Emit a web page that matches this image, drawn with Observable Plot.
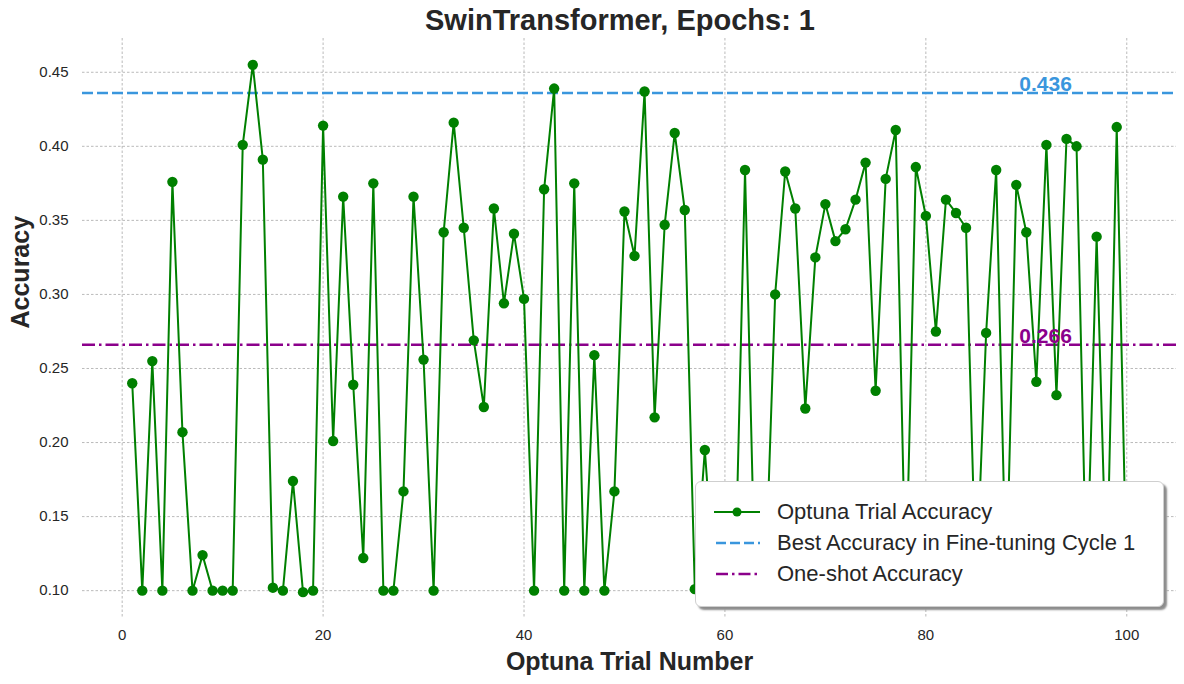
<!DOCTYPE html>
<html>
<head>
<meta charset="utf-8">
<script src="https://cdn.jsdelivr.net/npm/d3@7"></script>
<script src="https://cdn.jsdelivr.net/npm/@observablehq/plot@0.6"></script>
<style>
  body { margin: 0; background: #fff; font-family: "Liberation Sans", Arial, sans-serif; }
  #wrap { position: relative; width: 1184px; height: 684px; overflow: hidden; }
  #title { position: absolute; left: 60px; width: 1120px; top: 3px; text-align: center;
           font-size: 29px; font-weight: bold; color: #262626; line-height: 34px; }
  #chart { position: absolute; left: 0; top: 38px; }
  #legend { position: absolute; left: 695px; top: 481px; width: 469px; height: 126px;
            background: #fff; border: 1px solid #cfcfcf; border-radius: 6px;
            box-shadow: 3px 3px 2px #8c8c8c; box-sizing: border-box; }
  #legend .row { position: absolute; left: 18px; height: 30px; display: flex; align-items: center; }
  #legend .row span { font-size: 22px; color: #262626; margin-left: 17px; }
</style>
</head>
<body>
<div id="wrap">
  <div id="title">SwinTransformer, Epochs: 1</div>
  <div id="chart"></div>
  <div id="legend"></div>
</div>
<script>
// Optuna trial accuracies, trials 1..100
const accuracy = [
  0.240, 0.100, 0.255, 0.100, 0.376, 0.207, 0.100, 0.124, 0.100, 0.100,
  0.100, 0.401, 0.455, 0.391, 0.102, 0.100, 0.174, 0.099, 0.100, 0.414,
  0.201, 0.366, 0.239, 0.122, 0.375, 0.100, 0.100, 0.167, 0.366, 0.256,
  0.100, 0.342, 0.416, 0.345, 0.269, 0.224, 0.358, 0.294, 0.341, 0.297,
  0.100, 0.371, 0.439, 0.100, 0.375, 0.100, 0.259, 0.100, 0.167, 0.356,
  0.326, 0.437, 0.217, 0.347, 0.409, 0.357, 0.101, 0.195, 0.100, 0.100,
  0.100, 0.384, 0.100, 0.100, 0.300, 0.383, 0.358, 0.223, 0.325, 0.361,
  0.336, 0.344, 0.364, 0.389, 0.235, 0.378, 0.411, 0.100, 0.386, 0.353,
  0.275, 0.364, 0.355, 0.345, 0.100, 0.274, 0.384, 0.100, 0.374, 0.342,
  0.241, 0.401, 0.232, 0.405, 0.400, 0.100, 0.339, 0.100, 0.413, 0.100
];
const bestAccuracy = 0.436;
const oneShotAccuracy = 0.266;
const xTicks = [0, 20, 40, 60, 80, 100];
const yTicks = [0.10, 0.15, 0.20, 0.25, 0.30, 0.35, 0.40, 0.45];
const legendLabels = ["Optuna Trial Accuracy", "Best Accuracy in Fine-tuning Cycle 1", "One-shot Accuracy"];

const GREEN = "#008000", BLUE = "#3a96dd", PURPLE = "#8b008b";
const trials = accuracy.map((a, i) => ({trial: i + 1, acc: a}));

const chart = Plot.plot({
  width: 1184,
  height: 646,
  marginTop: 0,
  marginBottom: 66,
  marginLeft: 82,
  marginRight: 8,
  style: {fontFamily: "'Liberation Sans', Arial, sans-serif", fontSize: "15px", color: "#262626", background: "#fff"},
  x: {domain: [-3.95, 104.95]},
  y: {domain: [0.0812, 0.4728]},
  marks: [
    Plot.gridX(xTicks, {stroke: "#a8a8a8", strokeOpacity: 1, strokeWidth: 0.8, strokeDasharray: "2.5,2"}),
    Plot.gridY(yTicks, {stroke: "#a8a8a8", strokeOpacity: 1, strokeWidth: 0.8, strokeDasharray: "2.5,2"}),
    Plot.axisX(xTicks, {tickSize: 0, tickPadding: 11, label: null, fontSize: 15}),
    Plot.axisY(yTicks, {tickSize: 0, tickPadding: 14, label: null, tickFormat: d3.format(".2f"), fontSize: 15}),
    Plot.ruleY([bestAccuracy], {stroke: BLUE, strokeWidth: 2.5, strokeDasharray: "11,4"}),
    Plot.ruleY([oneShotAccuracy], {stroke: PURPLE, strokeWidth: 2.5, strokeDasharray: "13,4,2.5,4"}),
    Plot.line(trials, {x: "trial", y: "acc", stroke: GREEN, strokeWidth: 2}),
    Plot.dot(trials, {x: "trial", y: "acc", fill: GREEN, r: 5.2}),
    Plot.text([bestAccuracy], {x: 89.3, y: d => d, text: d => d.toFixed(3), fill: BLUE, fontSize: 21, fontWeight: "bold", textAnchor: "start", lineAnchor: "bottom", dy: -2}),
    Plot.text([oneShotAccuracy], {x: 89.3, y: d => d, text: d => d.toFixed(3), fill: PURPLE, fontSize: 21, fontWeight: "bold", textAnchor: "start", lineAnchor: "bottom", dy: -2}),
    Plot.text(["Optuna Trial Number"], {frameAnchor: "bottom", dy: 51, text: d => d, fontSize: 25, fontWeight: "bold", fill: "#262626"}),
    Plot.text(["Accuracy"], {frameAnchor: "left", dx: -62, rotate: -90, text: d => d, fontSize: 25, fontWeight: "bold", fill: "#262626"})
  ]
});
document.getElementById("chart").appendChild(chart);

// Legend
const legend = document.getElementById("legend");
const swatches = [
  `<svg width="46" height="12"><line x1="0" y1="6" x2="46" y2="6" stroke="${GREEN}" stroke-width="2"/><circle cx="23" cy="6" r="4.5" fill="${GREEN}"/></svg>`,
  `<svg width="46" height="12"><line x1="2" y1="6" x2="46" y2="6" stroke="${BLUE}" stroke-width="2.5" stroke-dasharray="10,4"/></svg>`,
  `<svg width="46" height="12"><line x1="2" y1="6" x2="46" y2="6" stroke="${PURPLE}" stroke-width="2.5" stroke-dasharray="12,4,2.5,4"/></svg>`
];
legendLabels.forEach((lab, i) => {
  const row = document.createElement("div");
  row.className = "row";
  row.style.top = (15 + i * 31) + "px";
  row.innerHTML = swatches[i] + `<span>${lab}</span>`;
  legend.appendChild(row);
});
</script>
</body>
</html>
